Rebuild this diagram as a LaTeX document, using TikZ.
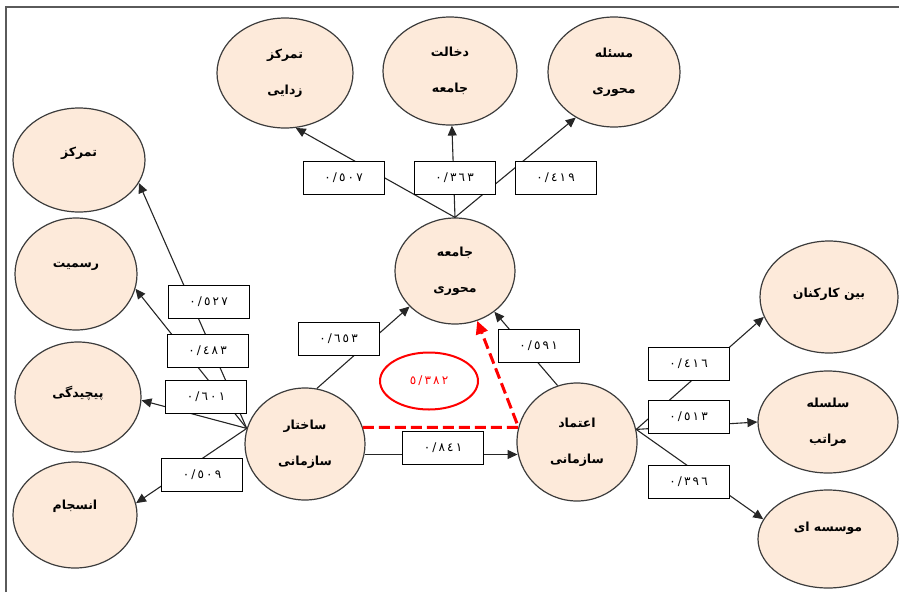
\documentclass[tikz,border=0pt]{standalone}
\usepackage{fontspec}
\usetikzlibrary{shapes.geometric,arrows.meta}
\TeXXeTstate=1
\newfontfamily\arfont[Script=Arabic]{DejaVu Sans}
\newfontfamily\digfont[LetterSpace=18]{DejaVu Sans}
\newcommand\oneline[2]{\smash{\raisebox{#1}{#2}}}
\definecolor{peach}{HTML}{FDEADA}
\definecolor{edgegray}{HTML}{3C3C3C}
\definecolor{framegray}{HTML}{5A5A5A}
\begin{document}
\begin{tikzpicture}[x=1pt,y=-1pt,
 oval/.style={ellipse, draw=edgegray, line width=1.2pt, fill=peach, inner sep=0pt, align=center,
   font=\arfont\bfseries\fontsize{12.5}{36}\selectfont},
 valbox/.style={rectangle, draw=black, line width=1pt, fill=white, minimum width=81pt,
   minimum height=33pt, inner sep=0pt, font=\digfont\fontsize{12}{14}\selectfont},
 arr/.style={draw=black!85, line width=1.1pt, -{Triangle[length=10pt,width=9pt]}},
 reddash/.style={draw=red, line width=3pt, dash pattern=on 11pt off 5pt,
   -{Triangle[length=13pt,width=12pt]}},
 redoval/.style={ellipse, draw=red, line width=2pt, inner sep=0pt, text=red,
   font=\digfont\fontsize{12}{14}\selectfont}
]
\useasboundingbox (0,0) rectangle (899,592);
\draw[framegray, line width=2pt] (6,592) -- (6,7) -- (899,7);

% ellipses
\node[oval, minimum width=136pt, minimum height=110pt] (tz) at (285,73) {\beginR تمرکز\endR\\\beginR زدایی\endR};
\node[oval, minimum width=134pt, minimum height=108pt] (dj) at (450,71) {\beginR دخالت\endR\\\beginR جامعه\endR};
\node[oval, minimum width=132pt, minimum height=110pt] (mm) at (614,72) {\beginR مسئله\endR\\\beginR محوری\endR};
\node[oval, minimum width=132pt, minimum height=104pt] (t) at (79,160) {\oneline{3.5pt}{\beginR تمرکز\endR}};
\node[oval, minimum width=122pt, minimum height=112pt] (r) at (76,274) {\oneline{6.5pt}{\beginR رسمیت\endR}};
\node[oval, minimum width=126pt, minimum height=110pt] (p) at (78,397) {\oneline{0pt}{\beginR پیچیدگی\endR}};
\node[oval, minimum width=124pt, minimum height=106pt] (e) at (75,515) {\oneline{5.5pt}{\beginR انسجام\endR}};
\node[oval, minimum width=120pt, minimum height=106pt] (jm) at (455,271) {\beginR جامعه\endR\\\beginR محوری\endR};
\node[oval, minimum width=120pt, minimum height=112pt] (ss) at (305,444) {\beginR ساختار\endR\\\beginR سازمانی\endR};
\node[oval, minimum width=120pt, minimum height=118pt] (es) at (577,442) {\beginR اعتماد\endR\\\beginR سازمانی\endR};
\node[oval, minimum width=138pt, minimum height=112pt] (bk) at (829,297) {\oneline{0pt}{\beginR بین کارکنان\endR}};
\node[oval, minimum width=140pt, minimum height=102pt] (sm) at (828,422) {\beginR سلسله\endR\\\beginR مراتب\endR};
\node[oval, minimum width=140pt, minimum height=98pt] (mo) at (828,539) {\oneline{7.5pt}{\beginR موسسه ای\endR}};

% connectors
\draw[arr] (jm.north) -- (tz.-79);
\draw[arr] (jm.north) -- (dj.-88);
\draw[arr] (jm.north) -- (mm.-130);
\draw[arr] (ss.165) -- (t.-21);
\draw[arr] (ss.165) -- (r.-14);
\draw[arr] (ss.165) -- (p.-3);
\draw[arr] (ss.165) -- (e.11);
\draw[arr] (ss.78) -- (jm.-142);
\draw[arr] (ss.-10) -- (ss.-10 -| es.-169);
\draw[arr] (es.109) -- (jm.-46);
\draw[arr] (es.12) -- (bk.-163);
\draw[arr] (es.12) -- (sm.180);
\draw[arr] (es.12) -- (mo.163);
\draw[reddash] (ss.16) -- (ss.16 -| es.165) -- (jm.-66);

% red value
\node[redoval, minimum width=98pt, minimum height=57pt] (tot) at (429,381) {٥/٣٨٢};

% value boxes
\node[valbox] (b507) at (343.5,177.5) {٠/٥٠٧};
\node[valbox] (b363) at (454.5,177.5) {٠/٣٦٣};
\node[valbox] (b419) at (555.5,178) {٠/٤١٩};
\node[valbox] (b527) at (208.5,301.5) {٠/٥٢٧};
\node[valbox] (b483) at (207.5,351) {٠/٤٨٣};
\node[valbox] (b601) at (206,396.5) {٠/٦٠١};
\node[valbox] (b509) at (202,475) {٠/٥٠٩};
\node[valbox] (b653) at (338.5,338.5) {٠/٦٥٣};
\node[valbox] (b841) at (443,447.5) {٠/٨٤١};
\node[valbox] (b591) at (538.5,345.5) {٠/٥٩١};
\node[valbox] (b416) at (688.5,364) {٠/٤١٦};
\node[valbox] (b513) at (688.5,416.5) {٠/٥١٣};
\node[valbox] (b396) at (688.5,482) {٠/٣٩٦};
\end{tikzpicture}
\end{document}
